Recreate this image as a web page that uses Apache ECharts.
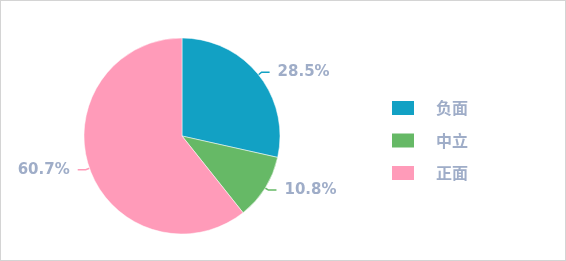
<!DOCTYPE html>
<html><head><meta charset="utf-8">
<script src="https://cdn.jsdelivr.net/npm/echarts@6/dist/echarts.min.js"></script>
<style>html,body{margin:0;padding:0;background:#fff}#c{width:566px;height:261px;box-sizing:border-box;border:1px solid #d4d4d4}</style>
</head><body><div id="c"></div>
<script>
var categories = ['负面', '中立', '正面'];
var values = [28.5, 10.8, 60.7];
var colors = ['#12a1c4', '#66b966', '#ff9bb9'];
var chart = echarts.init(document.getElementById('c'));
chart.setOption({
  color: colors,
  legend: {
    orient: 'vertical', left: 384, top: 93,
    itemWidth: 24, itemHeight: 16, itemGap: 14.5,
    icon: 'rect',
    data: categories,
    textStyle: { color: '#9fadc8', fontSize: 16, fontWeight: 'bold', fontFamily: 'Noto Sans CJK SC', padding: [0,0,0,16] }
  },
  series: [{
    type: 'pie', center: [181, 135], radius: 98,
    startAngle: 90, clockwise: true,
    label: { formatter: '{d}%', color: '#9fadc8', fontSize: 15, fontWeight: 'bold', fontFamily: 'DejaVu Sans', padding: [0, 3] },
    labelLine: { length: 4, length2: 8, lineStyle: { width: 1.5 } },
    itemStyle: { borderColor: '#fff', borderWidth: 0.5 },
    data: categories.map(function(n, i){ return { name: n, value: values[i] }; })
  }]
});
</script></body></html>
